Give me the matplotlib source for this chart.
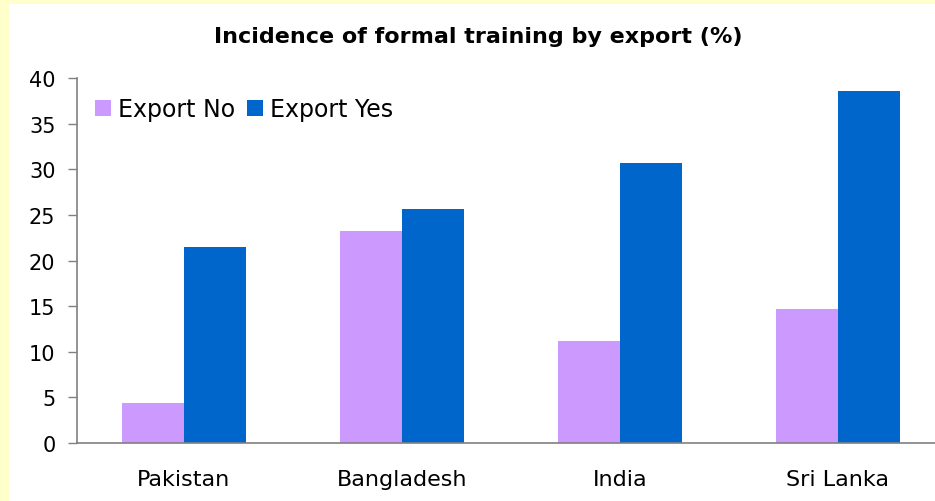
import numpy as np
import matplotlib
matplotlib.use('Agg')
from matplotlib import pyplot as plt
from matplotlib.patches import Rectangle

plt.rcParams['font.family'] = ['DejaVu Sans']

countries = ['Pakistan', 'Bangladesh', 'India', 'Sri Lanka']
export_no = [4.4, 23.2, 11.2, 14.7]
export_yes = [21.5, 25.6, 30.7, 38.6]

W, H = 935, 502
fig = plt.figure(figsize=(W / 100, H / 100), dpi=100)
fig.patch.set_facecolor('#FFFFCC')

# white chart area (yellow shows only at top and left edges)
fig.patches.append(Rectangle((9 / W, 0), 1 - 9 / W, 1 - 5 / H,
                             transform=fig.transFigure, facecolor='white',
                             edgecolor='none', zorder=-5))

ax = fig.add_axes([77 / W, (H - 444) / H, (W - 77) / W, 365 / H])
ax.set_facecolor('none')

x = np.arange(len(countries))
bw = 0.284
ax.bar(x - bw / 2, export_no, bw, color='#CC99FF', label='Export No')
ax.bar(x + bw / 2, export_yes, bw, color='#0066CC', label='Export Yes')

ax.set_xlim(-0.49, 3.445)
ax.set_ylim(0, 40)
ax.set_yticks(range(0, 41, 5))
ax.set_xticks(x)
ax.set_xticklabels(countries, fontsize=16)

for s in ['top', 'right']:
    ax.spines[s].set_visible(False)
for s in ['left', 'bottom']:
    ax.spines[s].set_color('#808080')
    ax.spines[s].set_linewidth(1.2)

ax.tick_params(axis='y', labelsize=15, length=6.5, width=1, color='#808080', pad=9)
ax.tick_params(axis='x', length=0, pad=19)

fig.text(478 / W, 1 - 37 / H, 'Incidence of formal training by export (%)',
         ha='center', va='center', fontsize=16, fontweight='bold')

ax.legend(loc='center left', bbox_to_anchor=(95 / W, 1 - 110 / H),
          bbox_transform=fig.transFigure, ncol=2, frameon=False,
          fontsize=17, borderaxespad=0, borderpad=0,
          handlelength=0.68, handleheight=0.68, handletextpad=0.3,
          columnspacing=0.5)

fig.savefig('out.png', dpi=100, facecolor=fig.get_facecolor())
